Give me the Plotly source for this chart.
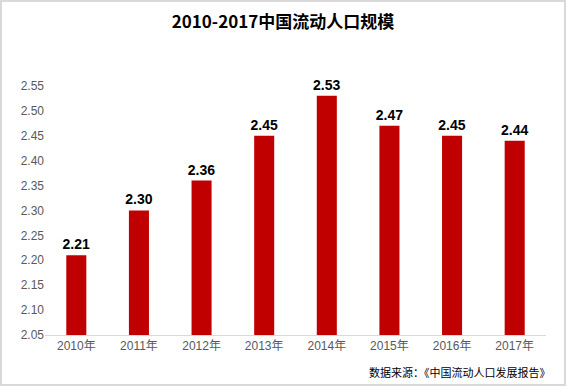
import plotly.graph_objects as go

years = ["2010年", "2011年", "2012年", "2013年", "2014年", "2015年", "2016年", "2017年"]
values = [2.21, 2.30, 2.36, 2.45, 2.53, 2.47, 2.45, 2.44]
y_ticks = [2.05, 2.10, 2.15, 2.20, 2.25, 2.30, 2.35, 2.40, 2.45, 2.50, 2.55]
title_text = "2010-2017中国流动人口规模"
source_text = "数据来源：《中国流动人口发展报告》"

W, H = 566, 386
ML, MR, MT, MB = 45, 20, 61, 51
PW, PH = W - ML - MR, H - MT - MB

fig = go.Figure()
fig.add_trace(go.Bar(
    x=years, y=values,
    marker=dict(color="#C00000", line=dict(width=0)),
    text=[f"{v:.2f}" for v in values],
    textposition="outside",
    constraintext="none",
    textfont=dict(family="Arial, Liberation Sans", size=14, color="#000000"),
    texttemplate="<b>%{text}</b>",
    cliponaxis=False,
))

fig.update_layout(
    width=W, height=H,
    margin=dict(l=ML, r=MR, t=MT, b=MB),
    paper_bgcolor="white", plot_bgcolor="white",
    bargap=0.68,
    showlegend=False,
    title=dict(text="<b>" + title_text + "</b>", x=0.5, xanchor="center",
               y=1 - 22 / H, yanchor="middle",
               font=dict(family="Noto Sans CJK SC", size=17, color="#000000")),
    xaxis=dict(showgrid=False, showline=True, linecolor="#D9D9D9", linewidth=1,
               ticks="", tickfont=dict(family="Arial, Liberation Sans, Noto Sans CJK SC", size=12, color="#595959")),
    yaxis=dict(range=[2.05, 2.6], tickvals=y_ticks, ticktext=[f"{t:.2f}" for t in y_ticks],
               showgrid=False, zeroline=False, showline=False, ticks="",
               tickfont=dict(family="Arial, Liberation Sans", size=12, color="#595959")),
    annotations=[dict(text=source_text, xref="paper", yref="paper",
                      x=(553 - ML) / PW, y=-(372 - (H - MB)) / PH,
                      xanchor="right", yanchor="middle", showarrow=False,
                      font=dict(family="Noto Sans CJK SC", size=11, color="#000000"))],
    shapes=[dict(type="rect", xref="paper", yref="paper",
                 x0=-(ML - 1) / PW, x1=1 + (MR - 1) / PW,
                 y0=-(MB - 1) / PH, y1=1 + (MT - 1) / PH,
                 line=dict(color="#D9D9D9", width=2), fillcolor="rgba(0,0,0,0)")],
)

fig.write_html("out.html", config={"displayModeBar": False},
               post_script="document.body.style.margin='0';document.body.style.overflow='hidden';")
